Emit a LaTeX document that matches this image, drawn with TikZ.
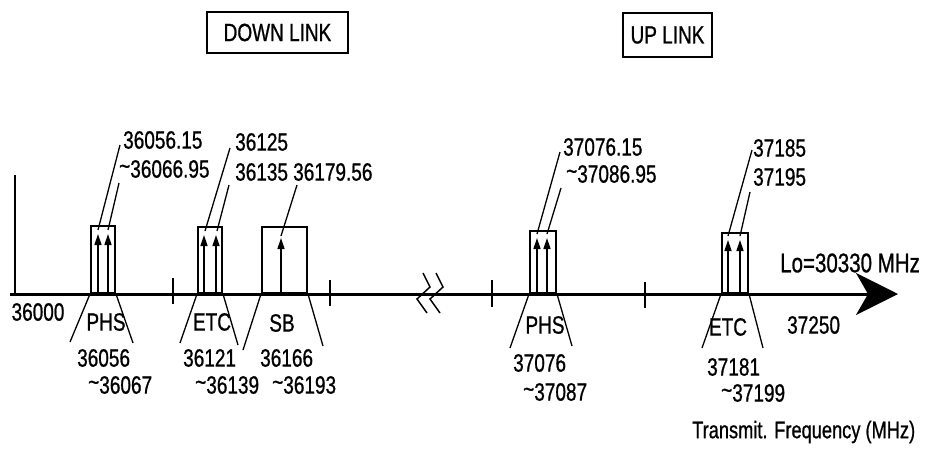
\documentclass[tikz,border=0pt]{standalone}
\usepackage{fontspec}
\setmainfont{Liberation Sans}[FakeStretch=0.76,FakeBold=0.8]
\usetikzlibrary{arrows.meta}
\newcommand\lbfont{\fontsize{25}{25}\selectfont}
\newcommand\tl{\raisebox{3pt}{\textasciitilde}}
\tikzset{
  lbl/.style={inner sep=0pt, font=\lbfont},
  hdr/.style={draw, line width=1.6pt, inner sep=0pt, font=\lbfont},
  band/.style={draw, line width=2pt, inner sep=0pt, anchor=south west},
  sig/.style={line width=1.6pt, -{Triangle[length=11pt,width=7pt]}},
  lead/.style={line width=1.3pt},
  fan/.style={line width=1.3pt},
  tick/.style={line width=1.8pt},
}
\begin{document}
\begin{tikzpicture}[x=1pt,y=-1pt]
\useasboundingbox (0,0) rectangle (928,448);
% headers
\node[hdr, minimum width=141pt, minimum height=41pt] (dl) at (277.5,32.5) {DOWN LINK};
\node[hdr, minimum width=89pt, minimum height=44pt] (ul) at (667.5,35) {UP LINK};
% axis
\coordinate (ax0) at (10,294);
\coordinate (ax1) at (898,294);
\draw[line width=3pt, -{Stealth[length=42pt,width=42pt,inset=12pt]}] (ax0) -- (ax1);
\coordinate (v0) at (15,294); \coordinate (v1) at (15,175);
\draw[line width=1.4pt] (v0) -- (v1);
% ticks
\draw[tick] (173,278) -- (173,304);
\draw[tick] (330,280) -- (330,306);
\draw[line width=2.6pt] (492,280) -- (492,307);
\draw[tick] (645,282) -- (645,308);
% break
\draw[line width=1.5pt] (423,273) -- (430,287) -- (417,299) -- (427,313);
\draw[line width=1.5pt] (436,273) -- (443,287) -- (430,299) -- (440,313);
% bands
\node[band, minimum width=24pt, minimum height=67pt] (b1) at (90,294) {};
\node[band, minimum width=24pt, minimum height=66pt] (b2) at (197,294) {};
\node[band, minimum width=45pt, minimum height=66pt] (b3) at (261,294) {};
\node[band, minimum width=26pt, minimum height=62pt] (b4) at (529,294) {};
\node[band, minimum width=26pt, minimum height=60pt] (b5) at (721,294) {};
% signal arrows
\draw[sig] (98,294) -- (98,234);
\draw[sig] (108,294) -- (108,234);
\draw[sig] (204,294) -- (204,235);
\draw[sig] (216,294) -- (216,235);
\draw[sig] (281,294) -- (281,238);
\draw[sig] (537,294) -- (537,238);
\draw[sig] (547,294) -- (547,238);
\draw[sig] (728,294) -- (728,240);
\draw[sig] (740,294) -- (740,240);
% top labels
\node[lbl, anchor=west] (t1) at (123,140) {36056.15};
\node[lbl, anchor=west] (t2) at (119,169) {\tl36066.95};
\node[lbl, anchor=west] (t3) at (235,142) {36125};
\node[lbl, anchor=west] (t4) at (235,172) {36135};
\node[lbl, anchor=west] (t5) at (293,172) {36179.56};
\node[lbl, anchor=west] (t6) at (563,147) {37076.15};
\node[lbl, anchor=west] (t7) at (566,174) {\tl37086.95};
\node[lbl, anchor=west] (t8) at (753,148) {37185};
\node[lbl, anchor=west] (t9) at (753,177) {37195};
% leaders
\draw[lead] (98,230) -- (120,145);
\draw[lead] (108,230) -- (119,183);
\draw[lead] (205,231) -- (230,148);
\draw[lead] (217,231) -- (229,185);
\draw[lead] (281,236) -- (297,185);
\draw[lead] (537,234) -- (560,152);
\draw[lead] (547,234) -- (561,188);
\draw[lead] (728,236) -- (752,150);
\draw[lead] (740,236) -- (750,192);
% fans
\draw[fan] (b1.south west) -- (70,342);  \draw[fan] (b1.south east) -- (133,343);
\draw[fan] (b2.south west) -- (180,343); \draw[fan] (b2.south east) -- (238,345);
\draw[fan] (b3.south west) -- (243,350); \draw[fan] (b3.south east) -- (323,346);
\draw[fan] (b4.south west) -- (510,348); \draw[fan] (b4.south east) -- (572,346);
\draw[fan] (b5.south west) -- (702,348); \draw[fan] (b5.south east) -- (763,348);
% bottom labels
\node[lbl] (p1) at (106,322) {PHS};
\node[lbl, anchor=west] (p1a) at (77,358) {36056};
\node[lbl, anchor=west] (p1b) at (88,385) {\tl36067};
\node[lbl] (e1) at (212,322) {ETC};
\node[lbl, anchor=west] (e1a) at (183,358) {36121};
\node[lbl, anchor=west] (e1b) at (195,385) {\tl36139};
\node[lbl] (s1) at (282,323) {SB};
\node[lbl, anchor=west] (s1a) at (260,358) {36166};
\node[lbl, anchor=west] (s1b) at (272,385) {\tl36193};
\node[lbl] (p2) at (545,325) {PHS};
\node[lbl, anchor=west] (p2a) at (513,363) {37076};
\node[lbl, anchor=west] (p2b) at (523,392) {\tl37087};
\node[lbl] (e2) at (728,327) {ETC};
\node[lbl, anchor=west] (e2a) at (707,367) {37181};
\node[lbl, anchor=west] (e2b) at (721,393) {\tl37199};
\node[lbl] (x0) at (38,312) {36000};
\node[lbl, anchor=west] (x1) at (787,325) {37250};
\node[lbl, anchor=west, font=\fontsize{27}{27}\selectfont] (lo) at (780,263) {Lo=30330 MHz};
\node[lbl, anchor=west, font=\fontsize{24}{24}\selectfont] (tf) at (692,432) {Transmit. Frequency (MHz)};
\end{tikzpicture}
\end{document}
